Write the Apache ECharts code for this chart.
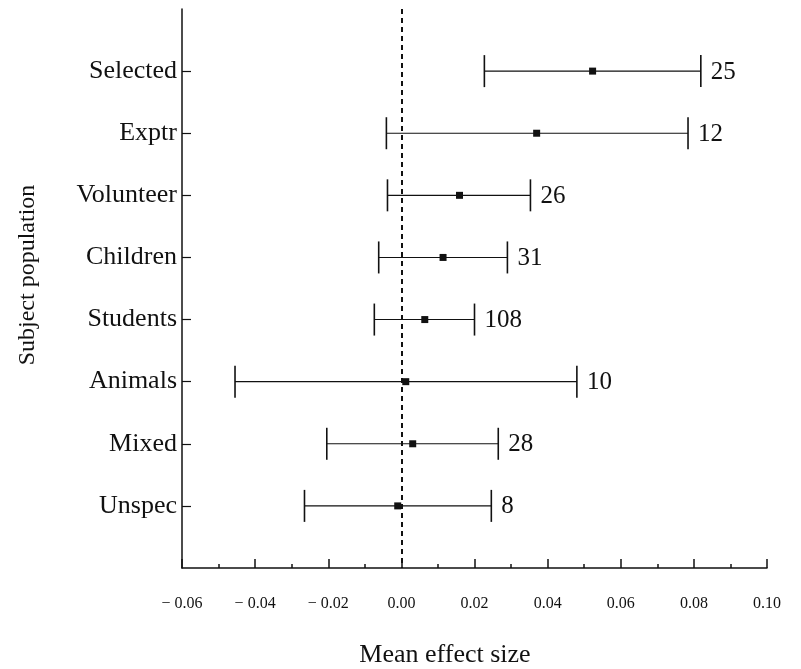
<!DOCTYPE html>
<html>
<head>
<meta charset="utf-8">
<script src="https://cdn.jsdelivr.net/npm/echarts@6/dist/echarts.min.js"></script>
<style>
  html, body { margin: 0; padding: 0; background: #fff; }
  #chart { width: 801px; height: 669px; }
</style>
</head>
<body>
<div id="chart"></div>
<script>
// Subject populations, top to bottom
const categories = ['Selected', 'Exptr', 'Volunteer', 'Children', 'Students', 'Animals', 'Mixed', 'Unspec'];
// Interval bounds and mean effect size per population
const lower = [0.0227, -0.0041, -0.0038, -0.0062, -0.0074, -0.0455, -0.0204, -0.0265];
const means = [0.0523, 0.0370, 0.0159, 0.0114, 0.0064, 0.0012, 0.0031, -0.0010];
const upper = [0.0819, 0.0784, 0.0353, 0.0290, 0.0200, 0.0480, 0.0265, 0.0246];
// Number of studies per population
const counts = [25, 12, 26, 31, 108, 10, 28, 8];

// Axis categories padded with an empty slot at each end
const yCats = [''].concat(categories, ['']);

const serif = 'Liberation Serif';
const ink = '#111';
const chart = echarts.init(document.getElementById('chart'));

const rows = categories.map((c, i) => [i + 1, lower[i], means[i], upper[i], counts[i]]);

function renderBar(params, api) {
  const idx = api.value(0);
  const pLo = api.coord([api.value(1), idx]);
  const pMid = api.coord([api.value(2), idx]);
  const pHi = api.coord([api.value(3), idx]);
  const y = pLo[1];
  const cap = 16;
  return {
    type: 'group',
    children: [
      { type: 'line', shape: { x1: pLo[0], y1: y, x2: pHi[0], y2: y }, style: { stroke: ink, lineWidth: 1.1 } },
      { type: 'line', shape: { x1: pLo[0], y1: y - cap, x2: pLo[0], y2: y + cap }, style: { stroke: ink, lineWidth: 1.6 } },
      { type: 'line', shape: { x1: pHi[0], y1: y - cap, x2: pHi[0], y2: y + cap }, style: { stroke: ink, lineWidth: 1.6 } },
      { type: 'rect', shape: { x: pMid[0] - 3.5, y: y - 3.5, width: 7, height: 7 }, style: { fill: ink } },
      { type: 'text', x: pHi[0] + 10, y: y + 1, style: { text: String(api.value(4)), fill: ink, font: '25px "' + serif + '"', verticalAlign: 'middle', align: 'left' } }
    ]
  };
}

chart.setOption({
  animation: false,
  backgroundColor: '#ffffff',
  grid: { left: 182, right: 34, top: 9, bottom: 101 },
  xAxis: {
    type: 'value',
    min: -0.06,
    max: 0.10,
    interval: 0.02,
    axisLine: { show: true, onZero: false, lineStyle: { color: ink, width: 1.5 } },
    axisTick: { show: true, inside: true, length: 9, lineStyle: { color: ink, width: 1.5 } },
    minorTick: { show: true, splitNumber: 2, length: 4, lineStyle: { color: ink, width: 1.5 } },
    splitLine: { show: false },
    axisLabel: {
      margin: 28,
      color: ink,
      fontFamily: serif,
      fontSize: 16,
      formatter: v => (v < 0 ? '\u2212 ' : '') + Math.abs(v).toFixed(2)
    }
  },
  yAxis: {
    type: 'category',
    data: yCats,
    inverse: true,
    boundaryGap: false,
    axisLine: { show: true, onZero: false, lineStyle: { color: ink, width: 1.5 } },
    axisTick: {
      show: true, inside: true, length: 9,
      interval: (i, v) => v !== '',
      lineStyle: { color: ink, width: 1.2 }
    },
    splitLine: { show: false },
    axisLabel: { margin: 5, color: ink, fontFamily: serif, fontSize: 26, interval: 0 }
  },
  graphic: [
    { type: 'text', x: 445, y: 655, style: { text: 'Mean effect size', fill: ink, font: '26px "' + serif + '"', align: 'center', verticalAlign: 'middle' } },
    { type: 'text', x: 28, y: 275, rotation: Math.PI / 2, style: { text: 'Subject population', fill: ink, font: '24px "' + serif + '"', align: 'center', verticalAlign: 'middle' } }
  ],
  series: [{
    type: 'custom',
    renderItem: renderBar,
    encode: { x: [1, 2, 3], y: 0 },
    data: rows,
    markLine: {
      silent: true,
      symbol: 'none',
      label: { show: false },
      lineStyle: { color: ink, type: [5, 4], width: 2 },
      data: [{ xAxis: 0 }]
    }
  }]
});
</script>
</body>
</html>
